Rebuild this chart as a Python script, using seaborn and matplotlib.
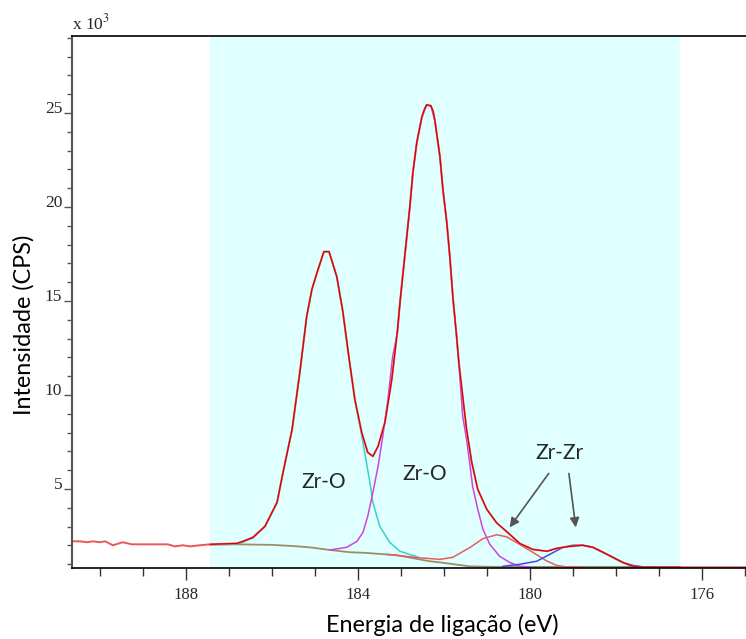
import numpy as np
import pandas as pd
import matplotlib
matplotlib.use("Agg")
import matplotlib.pyplot as plt
import seaborn as sns
from matplotlib.ticker import FixedLocator, MultipleLocator


# =========================
# Data (binding energy in eV, intensity in 10^3 CPS)
# =========================

data_x = [190.65, 190.47, 190.30, 190.16, 190.00, 189.88, 189.70, 189.47, 189.26,
          188.91, 188.42, 188.26, 188.07, 187.91, 187.67, 187.44, 186.81, 186.67,
          186.44, 186.16, 185.88, 185.74, 185.53, 185.35, 185.19, 185.07, 184.95,
          184.79, 184.67, 184.49, 184.35, 184.21, 184.07, 183.91, 183.77, 183.65,
          183.53, 183.37, 183.21, 183.08, 183.02, 182.91, 182.79, 182.72, 182.63,
          182.51, 182.45, 182.40, 182.30, 182.25, 182.21, 182.09, 182.02, 181.93,
          181.86, 181.79, 181.70, 181.65, 181.56, 181.47, 181.35, 181.21, 181.00,
          180.77, 180.47, 180.23, 179.93, 179.60, 179.37, 179.07, 178.77, 178.53,
          178.30, 178.07, 177.84, 177.60, 177.37, 176.50, 174.97]
data_y = [2.22, 2.22, 2.17, 2.22, 2.17, 2.22, 2.01, 2.17, 2.06,
          2.06, 2.06, 1.95, 2.01, 1.95, 2.01, 2.06, 2.11, 2.22,
          2.43, 3.02, 4.29, 5.89, 8.17, 11.20, 14.18, 15.61, 16.51,
          17.63, 17.63, 16.30, 14.45, 12.05, 9.77, 8.01, 6.95, 6.74,
          7.27, 8.54, 10.83, 13.40, 14.92, 17.36, 20.02, 21.83, 23.42,
          24.80, 25.20, 25.44, 25.39, 25.10, 24.64, 22.68, 20.92, 19.17,
          17.36, 15.24, 13.06, 11.73, 9.92, 8.17, 6.42, 4.98, 3.92,
          3.20, 2.60, 2.10, 1.79, 1.69, 1.85, 1.95, 2.01, 1.90,
          1.64, 1.37, 1.10, 0.89, 0.84, 0.84, 0.84]

bg_x = [187.45, 186.81, 186.00, 185.51, 185.12, 184.65, 184.19, 183.79, 183.09,
        182.33, 182.09, 181.40, 180.80, 176.50]
bg_y = [2.04, 2.06, 2.03, 1.97, 1.90, 1.76, 1.64, 1.60, 1.48,
        1.16, 1.10, 0.89, 0.86, 0.86]

# Zr-O (3d3/2)
cyan_x = [187.20, 186.81, 186.67, 186.44, 186.16, 185.88, 185.74, 185.53, 185.35,
          185.19, 185.07, 184.95, 184.79, 184.67, 184.49, 184.35, 184.21, 184.07,
          183.95, 183.84, 183.72, 183.65, 183.49, 183.26, 183.02, 182.60]
cyan_y = [2.05, 2.08, 2.18, 2.40, 3.00, 4.27, 5.87, 8.15, 11.18,
          14.16, 15.60, 16.50, 17.62, 17.62, 16.29, 14.44, 12.03, 9.75,
          8.33, 6.95, 5.35, 4.29, 3.02, 2.17, 1.69, 1.38]

# Zr-O (3d5/2)
mag_x = [184.65, 184.26, 184.02, 183.88, 183.77, 183.65, 183.53, 183.42, 183.30,
         183.19, 183.08, 183.02, 182.91, 182.79, 182.72, 182.63, 182.51, 182.40,
         182.30, 182.21, 182.09, 182.02, 181.93, 181.86, 181.79, 181.70, 181.65,
         181.56, 181.47, 181.40, 181.33, 181.21, 181.09, 180.93, 180.70, 180.47,
         180.23, 180.00]
mag_y = [1.76, 1.90, 2.22, 2.70, 3.55, 4.82, 6.20, 7.80, 9.77,
         12.05, 13.30, 14.90, 17.34, 20.00, 21.80, 23.40, 24.78, 25.42,
         25.37, 24.62, 22.66, 20.90, 19.15, 17.34, 15.22, 13.04, 11.70,
         8.86, 7.64, 6.42, 5.14, 3.92, 2.86, 2.06, 1.42, 1.10,
         0.89, 0.86]

# Zr-Zr (3d3/2)
zr1_x = [183.30, 182.60, 182.09, 181.79, 181.40, 181.09, 180.77, 180.54, 180.23,
         179.92, 179.61, 179.38, 179.15, 178.80]
zr1_y = [1.52, 1.35, 1.26, 1.37, 1.88, 2.36, 2.57, 2.46, 2.05,
         1.62, 1.18, 0.94, 0.86, 0.85]

# Zr-Zr (3d5/2)
zr2_x = [180.63, 180.23, 179.84, 179.53, 179.23, 179.00, 178.77, 178.53, 178.30,
         178.07, 177.84, 177.60, 177.37, 177.00]
zr2_y = [0.89, 1.00, 1.16, 1.53, 1.90, 2.01, 2.01, 1.90, 1.64,
         1.37, 1.10, 0.94, 0.86, 0.85]

region = (187.45, 176.50)
x_major = [188, 184, 180, 176]
y_major = [5, 10, 15, 20, 25]

peak_labels = ["Zr-O", "Zr-O", "Zr-Zr"]
peak_label_x = [184.79, 182.44, 179.30]
peak_label_y = [5.40, 5.80, 6.90]


# =========================
# Figure
# =========================

sns.set_theme(style="white")
plt.rcParams["mathtext.fontset"] = "stix"

fig = plt.figure(figsize=(7.46, 6.39), dpi=100)
ax = fig.add_axes([0.0965, 0.1111, 0.9035, 0.8326])

ax.axvspan(region[0], region[1], color="#E0FFFF", lw=0, zorder=0)

data = pd.DataFrame({"x": data_x, "y": data_y})
env = data[(data["x"] <= region[0]) & (data["x"] >= region[1])]

sns.lineplot(x=bg_x, y=bg_y, ax=ax, color="#A08C64", lw=1.3, estimator=None, sort=False)
sns.lineplot(x=cyan_x, y=cyan_y, ax=ax, color="#3CCFCF", lw=1.1, estimator=None, sort=False)
sns.lineplot(x=mag_x, y=mag_y, ax=ax, color="#CC44DD", lw=1.1, estimator=None, sort=False)
sns.lineplot(x=zr1_x, y=zr1_y, ax=ax, color="#E06060", lw=1.1, estimator=None, sort=False)
sns.lineplot(x=zr2_x, y=zr2_y, ax=ax, color="#4848D8", lw=1.1, estimator=None, sort=False)
sns.lineplot(data=data, x="x", y="y", ax=ax, color="#E85858", lw=1.4, estimator=None, sort=False)
sns.lineplot(data=env, x="x", y="y", ax=ax, color="#D00000", lw=0.8, estimator=None, sort=False)

ax.set_xlim(190.65, 174.97)
ax.set_ylim(0.8, 29.1)

# ticks
ax.xaxis.set_major_locator(FixedLocator(x_major))
ax.xaxis.set_minor_locator(MultipleLocator(1))
ax.yaxis.set_major_locator(FixedLocator(y_major))
ax.yaxis.set_minor_locator(MultipleLocator(1))
ax.tick_params(axis="x", which="major", direction="out", length=8.5, width=1,
               color="#333333", pad=5, labelsize=12, bottom=True)
ax.tick_params(axis="x", which="minor", direction="out", length=6, width=1,
               color="#333333", bottom=True)
ax.tick_params(axis="y", which="major", direction="out", length=6, width=1,
               color="#555555", pad=1, labelsize=12.5, left=True)
ax.tick_params(axis="y", which="minor", direction="out", length=3.6, width=1,
               color="#555555", left=True)
for lab in ax.get_xticklabels() + ax.get_yticklabels():
    lab.set_family("Liberation Serif")
for lab in ax.get_yticklabels():
    lab.set_verticalalignment("baseline")

for side in ["top", "bottom"]:
    ax.spines[side].set_color("black")
    ax.spines[side].set_linewidth(1.2)
ax.spines["left"].set_color("#555555")
ax.spines["left"].set_linewidth(1.5)
ax.spines["right"].set_visible(False)

ax.set_xlabel("Energia de ligação (eV)", family="Lato", fontsize=16.8, color="black")
ax.set_ylabel("Intensidade (CPS)", family="Lato", fontsize=16.8, color="black")
ax.xaxis.set_label_coords(0.549, -0.086)
ax.yaxis.set_label_coords(-0.056, 0.457)

ax.text(0.0, 1.004, "x 10$^{3}$", transform=ax.transAxes, ha="left", va="bottom",
        family="Liberation Serif", fontsize=12.5)

for label, lx, ly in zip(peak_labels, peak_label_x, peak_label_y):
    ax.text(lx, ly, label, ha="center", va="center", family="Lato", fontsize=15)

ax.annotate("", xy=(180.47, 2.96), xytext=(179.56, 5.83),
            arrowprops=dict(arrowstyle="-|>", color="#555555", lw=1.2,
                            mutation_scale=14, shrinkA=0, shrinkB=0))
ax.annotate("", xy=(178.93, 2.96), xytext=(179.09, 5.83),
            arrowprops=dict(arrowstyle="-|>", color="#555555", lw=1.2,
                            mutation_scale=14, shrinkA=0, shrinkB=0))

fig.savefig("out.png", dpi=100)
